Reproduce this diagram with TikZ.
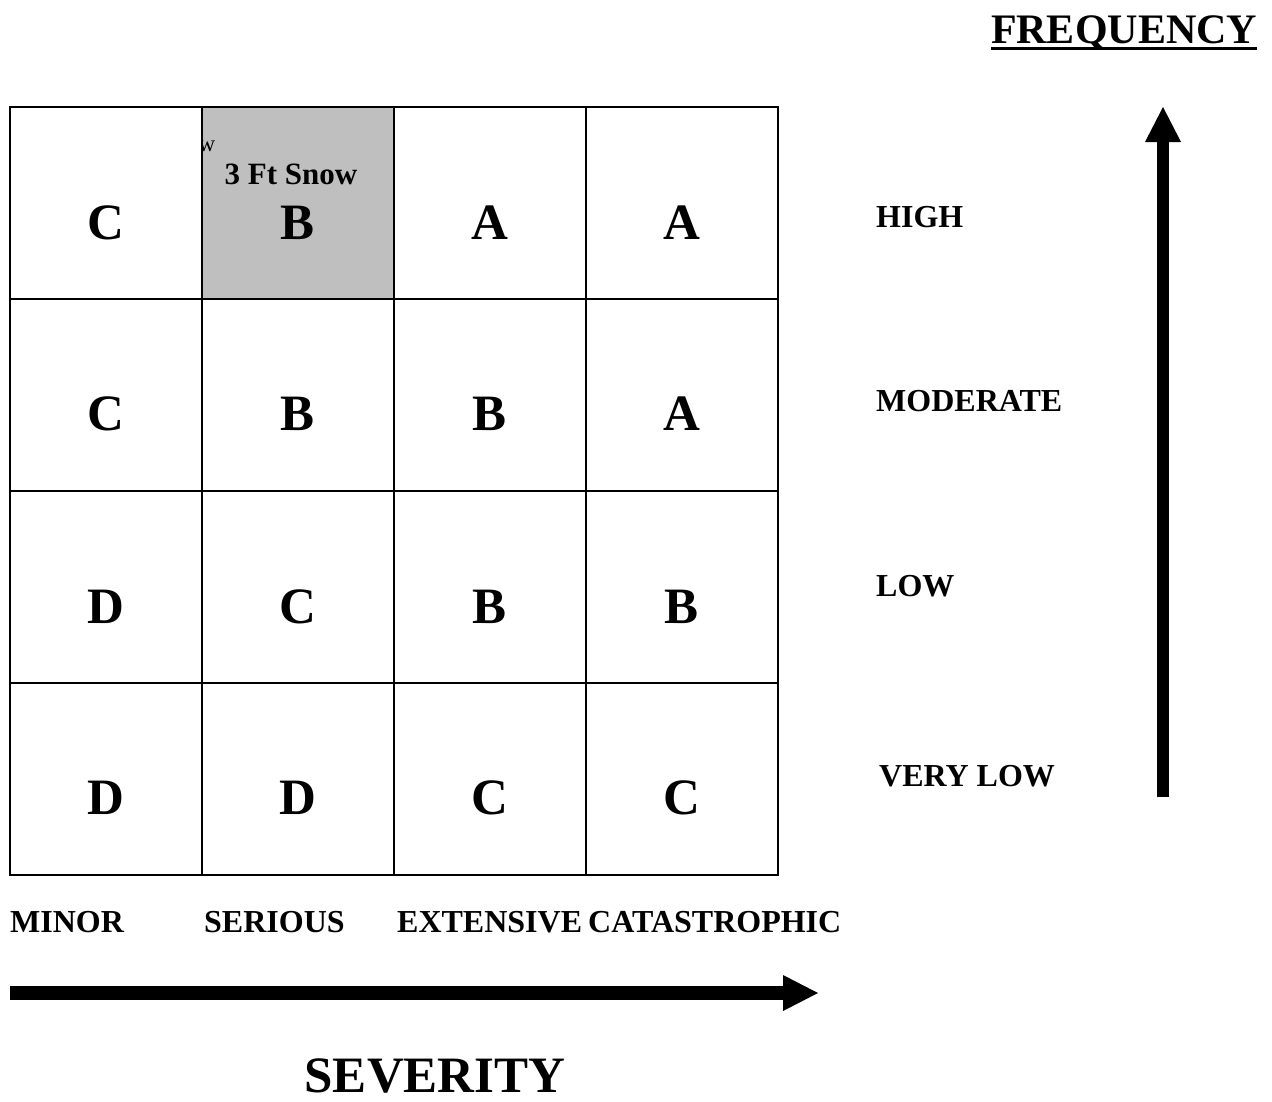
\documentclass[tikz,border=0pt]{standalone}
\usepackage{fontspec}
\setmainfont{Liberation Serif}
\begin{document}
\begin{tikzpicture}[x=1pt,y=-1pt,
  cell/.style={draw=black,line width=2pt,minimum size=192pt,inner sep=0pt,outer sep=0pt},
  grade/.style={anchor=base,font=\bfseries\fontsize{51}{60}\selectfont,inner sep=0pt},
  lab/.style={anchor=base west,font=\bfseries\fontsize{32}{36}\selectfont,inner sep=0pt},
  arrowshaft/.style={fill=black,draw=none},
]
\useasboundingbox (0,0) rectangle (1272,1101);
% grid cells
\foreach \r/\y in {1/203,2/395,3/587,4/779}{
  \foreach \c/\x in {1/106,2/298,3/490,4/682}{
    \node[cell] (cell\r\c) at (\x,\y) {};
  }
}
\fill[black!25] (cell12.north west) rectangle (cell12.south east);
\draw[line width=2pt] (cell12.north west) rectangle (cell12.south east);
\begin{scope}
  \clip (cell12.north west) rectangle (cell12.south east);
  \node[anchor=base,font=\fontsize{23}{26}\selectfont,inner sep=0pt] (clipw) at (207,151) {w};
\end{scope}
\node[anchor=base,font=\bfseries\fontsize{31}{36}\selectfont,inner sep=0pt] (snow) at (291,184) {3 Ft Snow};
% grades
\foreach \r/\y/\a/\b/\cc/\d in {1/239/C/B/A/A,2/430/C/B/B/A,3/623/D/C/B/B,4/814/D/D/C/C}{
  \node[grade] (g\r1) at (106,\y) {\a};
  \node[grade] (g\r2) at (298,\y) {\b};
  \node[grade] (g\r3) at (490,\y) {\cc};
  \node[grade] (g\r4) at (682,\y) {\d};
}
% frequency labels
\node[lab] (high) at (876,227) {HIGH};
\node[lab] (moderate) at (876,411) {MODERATE};
\node[lab] (low) at (876,596) {LOW};
\node[lab] (verylow) at (879,786) {VERY LOW};
% severity labels
\node[lab] (minor) at (10,932) {MINOR};
\node[lab] (serious) at (204,932) {SERIOUS};
\node[lab] (extensive) at (397,932) {EXTENSIVE};
\node[lab] (catastrophic) at (588,932) {CATASTROPHIC};
% titles
\node[anchor=base,font=\bfseries\fontsize{42}{48}\selectfont,inner sep=0pt] (freq) at (1124,43) {FREQUENCY};
\draw[line width=3pt] ([yshift=-5pt]freq.base west) -- ([yshift=-5pt]freq.base east);
\node[anchor=base,font=\bfseries\fontsize{51}{60}\selectfont,inner sep=0pt] (sev) at (435,1092) {SEVERITY};
% arrows
\coordinate (hstart) at (10,993);
\coordinate (htip) at (818,993);
\coordinate (vstart) at (1163,797);
\coordinate (vtip) at (1163,107);
\fill[arrowshaft] ([yshift=-7pt]hstart) rectangle ([xshift=-30pt,yshift=7pt]htip);
\fill[arrowshaft] (htip) -- ([xshift=-35pt,yshift=-18pt]htip) -- ([xshift=-35pt,yshift=18pt]htip) -- cycle;
\fill[arrowshaft] ([xshift=-6pt]vstart) rectangle ([xshift=6pt,yshift=-30pt]vtip);
\fill[arrowshaft] (vtip) -- ([xshift=-18pt,yshift=-35pt]vtip) -- ([xshift=18pt,yshift=-35pt]vtip) -- cycle;
\end{tikzpicture}
\end{document}
